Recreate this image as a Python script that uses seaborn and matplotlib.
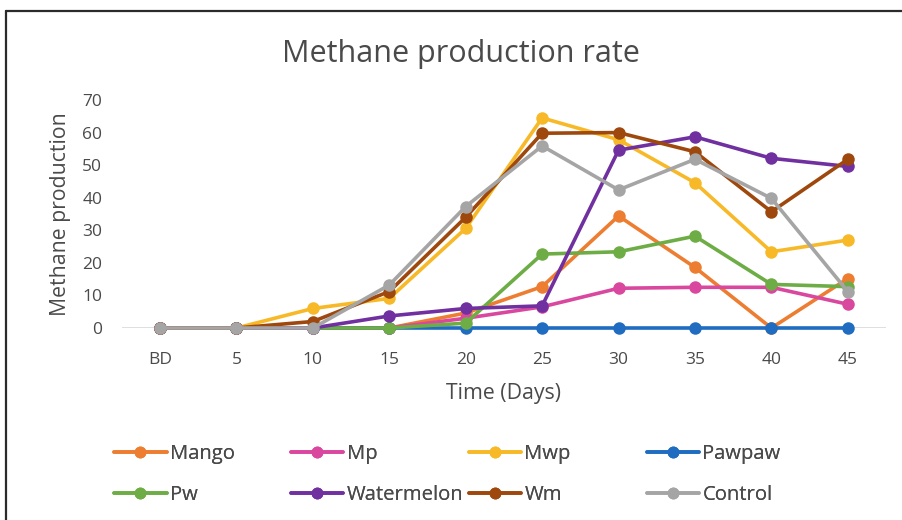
import matplotlib
matplotlib.use("Agg")
import matplotlib.pyplot as plt
from matplotlib.lines import Line2D
import seaborn as sns
import pandas as pd

# Sampling days (BD = before digestion)
days = ["BD", "5", "10", "15", "20", "25", "30", "35", "40", "45"]

# Methane production per substrate
mango      = [0, 0, 0, 0, 4.6, 12.7, 34.4, 18.6, 0, 15.2]
mp         = [0, 0, 0, 0, 3.0, 6.5, 12.2, 12.5, 12.5, 7.3]
mwp        = [0, 0, 6.0, 9.1, 30.6, 64.5, 57.8, 44.6, 23.4, 27.0]
pawpaw     = [0, 0, 0, 0, 0, 0, 0, 0, 0, 0]
pw         = [0, 0, 0, 0, 1.5, 22.7, 23.4, 28.2, 13.4, 12.7]
watermelon = [0, 0, 0, 3.7, 6.0, 6.8, 54.6, 58.7, 52.1, 49.6]
wm         = [0, 0, 2.0, 11.2, 34.0, 59.8, 60.0, 54.1, 35.7, 51.8]
control    = [0, 0, 0, 13.2, 37.3, 55.9, 42.4, 51.8, 39.8, 11.2]

series_names = ["Mango", "Mp", "Mwp", "Pawpaw", "Pw", "Watermelon", "Wm", "Control"]
series_values = [mango, mp, mwp, pawpaw, pw, watermelon, wm, control]
colors = ["#ED7D31", "#D9479E", "#F7B928", "#1F6CC0",
          "#6EAD45", "#7030A0", "#9E480E", "#A5A5A5"]

rows = []
for name, vals in zip(series_names, series_values):
    for d, v in zip(days, vals):
        rows.append({"Time": d, "Methane": v, "Series": name})
df = pd.DataFrame(rows)

sns.set_theme(style="white")
plt.rcParams["font.family"] = ["Open Sans", "DejaVu Sans"]

text_color = "#4a4a4a"

fig = plt.figure(figsize=(9.03, 5.2), dpi=100)
ax = fig.add_axes([0.1349, 0.3692, 0.8463, 0.4385])

palette = dict(zip(series_names, colors))
sns.lineplot(data=df, x="Time", y="Methane", hue="Series", hue_order=series_names,
             palette=palette, marker="o", markersize=9, markeredgewidth=0,
             linewidth=2.6, sort=False, ax=ax, legend=False, clip_on=False)

ax.set_xlim(-0.5, len(days) - 0.5)
ax.set_ylim(0, 70)
ax.set_yticks(range(0, 71, 10))
ax.set_xticks(range(len(days)))
ax.set_xticklabels(days)

for s in ax.spines.values():
    s.set_visible(False)
ax.axhline(0, color="#D9D9D9", linewidth=1.2, zorder=0)

ax.tick_params(axis="y", length=0, pad=14, labelsize=12.5, labelcolor=text_color)
ax.tick_params(axis="x", length=0, pad=17, labelsize=12.5, labelcolor=text_color)

ax.set_xlabel("Time (Days)", fontsize=15.3, color=text_color, labelpad=11)
ax.set_ylabel("Methane production", fontsize=15.3, color=text_color, labelpad=8)

fig.text(0.510, 0.896, "Methane production rate", ha="center", va="center",
         fontsize=22, color=text_color)

# Legend laid out in four columns of two rows
col_x = [0.126, 0.322, 0.519, 0.716]
for c in range(4):
    handles, labels = [], []
    for r in range(2):
        i = r * 4 + c
        handles.append(Line2D([], [], color=colors[i], linewidth=2.6,
                              marker="o", markersize=8.5, markeredgewidth=0))
        labels.append(series_names[i])
    leg = fig.legend(handles, labels, loc="upper left",
                     bbox_to_anchor=(col_x[c], 0.1465),
                     frameon=False, handlelength=2.6, handletextpad=0.15,
                     labelspacing=1.05, fontsize=14.6, labelcolor=text_color,
                     borderpad=0, borderaxespad=0)
    fig.add_artist(leg)

# Outer frame
fig.add_artist(Line2D([0.007, 1.0], [0.978, 0.978], transform=fig.transFigure,
                      color="#2b2b2b", linewidth=1.6))
fig.add_artist(Line2D([0.007, 0.007], [0.0, 0.978], transform=fig.transFigure,
                      color="#2b2b2b", linewidth=1.6))

fig.savefig("out.png", dpi=100)
